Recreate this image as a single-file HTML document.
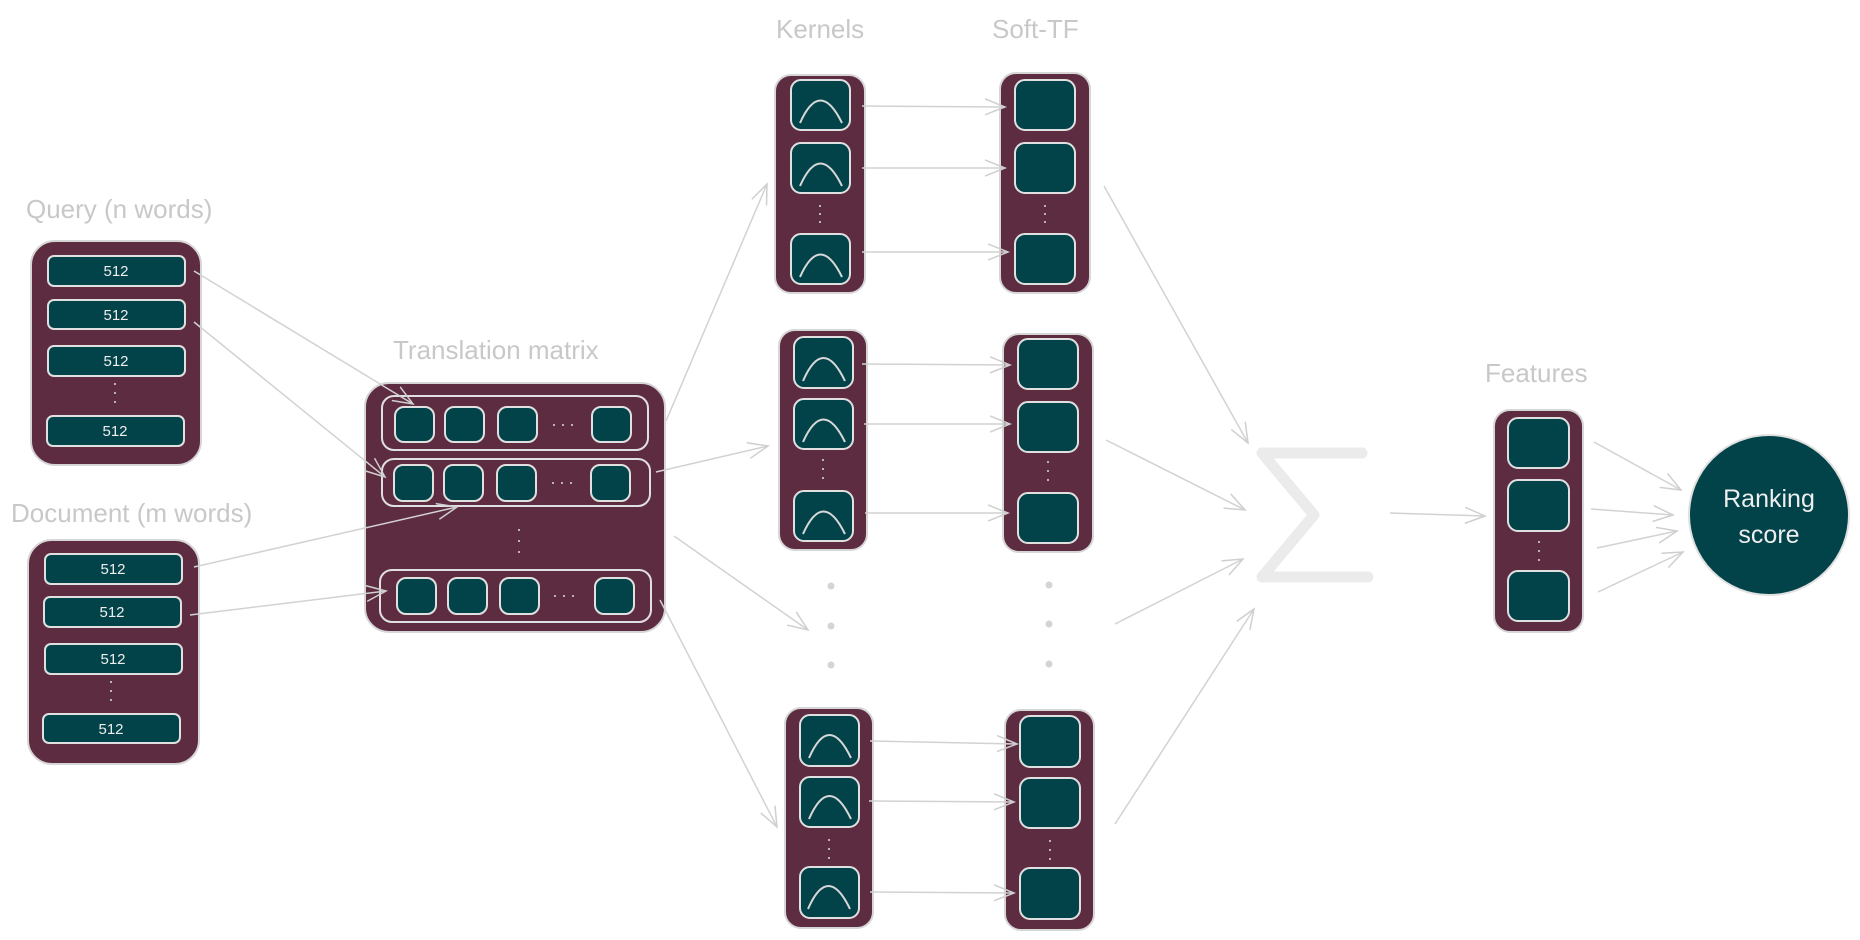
<!DOCTYPE html>
<html><head><meta charset="utf-8"><style>
html,body{margin:0;padding:0;background:#fff;}
svg{display:block;}
text{font-family:"Liberation Sans",sans-serif;}
</style></head><body>
<svg width="1860" height="940" viewBox="0 0 1860 940" xmlns="http://www.w3.org/2000/svg">
<defs>
<marker id="a" markerWidth="24" markerHeight="24" refX="20" refY="12" orient="auto" markerUnits="userSpaceOnUse">
<polyline points="0,4 20,12 0,20" fill="none" stroke="#cfcfcf" stroke-width="1.5"/>
</marker>
</defs>
<g fill="#c8c8c8" font-size="26">
<text x="26" y="218">Query (n words)</text>
<text x="11" y="522">Document (m words)</text>
<text x="393" y="359">Translation matrix</text>
<text x="776" y="38">Kernels</text>
<text x="992" y="38">Soft-TF</text>
<text x="1485" y="382">Features</text>
</g>
<g stroke="#d6d6d6" stroke-width="2">
<rect x="31" y="241" width="170" height="224" rx="24" fill="#5e2c41"/>
<g fill="#02434a" stroke="#e0e0e0">
<rect x="48" y="256" width="137" height="30" rx="6"/>
<rect x="48" y="300" width="137" height="29" rx="6"/>
<rect x="48" y="346" width="137" height="30" rx="6"/>
<rect x="47" y="416" width="137" height="30" rx="6"/>
</g>
<rect x="28" y="540" width="171" height="224" rx="24" fill="#5e2c41"/>
<g fill="#02434a" stroke="#e0e0e0">
<rect x="45" y="554" width="137" height="30" rx="6"/>
<rect x="44" y="597" width="137" height="30" rx="6"/>
<rect x="45" y="644" width="137" height="30" rx="6"/>
<rect x="43" y="714" width="137" height="29" rx="6"/>
</g>
<rect x="365" y="383" width="300" height="249" rx="24" fill="#5e2c41"/>
<g fill="none" stroke="#e0e0e0">
<rect x="382" y="396" width="266" height="54" rx="12"/>
<rect x="382" y="459" width="268" height="47" rx="12"/>
<rect x="380" y="570" width="271" height="52" rx="12"/>
</g>
<g fill="#02434a" stroke="#e0e0e0">
<rect x="395" y="407" width="39" height="35" rx="9"/><rect x="445" y="407" width="39" height="35" rx="9"/><rect x="498" y="407" width="39" height="35" rx="9"/><rect x="592" y="407" width="39" height="35" rx="9"/>
<rect x="394" y="465" width="39" height="36" rx="9"/><rect x="444" y="465" width="39" height="36" rx="9"/><rect x="497" y="465" width="39" height="36" rx="9"/><rect x="591" y="465" width="39" height="36" rx="9"/>
<rect x="397" y="578" width="39" height="36" rx="9"/><rect x="448" y="578" width="39" height="36" rx="9"/><rect x="500" y="578" width="39" height="36" rx="9"/><rect x="595" y="578" width="39" height="36" rx="9"/>
</g>
<rect x="775" y="75" width="90" height="218" rx="16" fill="#5e2c41"/>
<rect x="1000" y="73" width="90" height="220" rx="16" fill="#5e2c41"/>
<rect x="779" y="330" width="88" height="220" rx="16" fill="#5e2c41"/>
<rect x="1003" y="334" width="90" height="218" rx="16" fill="#5e2c41"/>
<rect x="785" y="708" width="88" height="220" rx="16" fill="#5e2c41"/>
<rect x="1005" y="710" width="89" height="220" rx="16" fill="#5e2c41"/>
<rect x="1494" y="410" width="89" height="222" rx="16" fill="#5e2c41"/>
<g fill="#02434a" stroke="#e0e0e0">
<rect x="791" y="80" width="59" height="50" rx="10"/><rect x="791" y="143" width="59" height="50" rx="10"/><rect x="791" y="234" width="59" height="50" rx="10"/>
<rect x="1015" y="80" width="60" height="50" rx="10"/><rect x="1015" y="143" width="60" height="50" rx="10"/><rect x="1015" y="234" width="60" height="50" rx="10"/>
<rect x="794" y="337" width="59" height="51" rx="10"/><rect x="794" y="399" width="59" height="50" rx="10"/><rect x="794" y="491" width="59" height="50" rx="10"/>
<rect x="1018" y="339" width="60" height="50" rx="10"/><rect x="1018" y="402" width="60" height="50" rx="10"/><rect x="1018" y="493" width="60" height="50" rx="10"/>
<rect x="800" y="715" width="59" height="51" rx="10"/><rect x="800" y="777" width="59" height="50" rx="10"/><rect x="800" y="867" width="59" height="51" rx="10"/>
<rect x="1020" y="716" width="60" height="51" rx="10"/><rect x="1020" y="778" width="60" height="50" rx="10"/><rect x="1020" y="868" width="60" height="51" rx="10"/>
<rect x="1508" y="418" width="61" height="50" rx="10"/><rect x="1508" y="480" width="61" height="51" rx="10"/><rect x="1508" y="571" width="61" height="50" rx="10"/>
</g>
<circle cx="1769" cy="515" r="80" fill="#02434a" stroke="#e0e0e0"/>
</g>
<g fill="none" stroke="#d8d8d8" stroke-width="2">
<path d="M800,123 Q820,78 842,123"/><path d="M800,186 Q820,141 842,186"/><path d="M800,277 Q820,232 842,277"/>
<path d="M803,381 Q823,335 845,381"/><path d="M803,442 Q823,397 845,442"/><path d="M803,534 Q823,489 845,534"/>
<path d="M809,758 Q829,712 851,758"/><path d="M809,819 Q829,773 851,819"/><path d="M808,909 Q828,863 850,909"/>
</g>
<g fill="#eee" font-size="15" text-anchor="middle">
<text x="116" y="276">512</text><text x="116" y="320">512</text><text x="116" y="366">512</text><text x="115" y="436">512</text>
<text x="113" y="574">512</text><text x="112" y="617">512</text><text x="113" y="664">512</text><text x="111" y="734">512</text>
</g>
<g fill="#eee" font-size="25" text-anchor="middle">
<text x="1769" y="507">Ranking</text><text x="1769" y="543">score</text>
</g>
<g fill="#ddd">
<circle cx="115" cy="384" r="1"/><circle cx="115" cy="393" r="1"/><circle cx="115" cy="402" r="1"/>
<circle cx="111" cy="682" r="1"/><circle cx="111" cy="691" r="1"/><circle cx="111" cy="700" r="1"/>
<circle cx="820" cy="206" r="1"/><circle cx="820" cy="214" r="1"/><circle cx="820" cy="222" r="1"/>
<circle cx="1045" cy="206" r="1"/><circle cx="1045" cy="214" r="1"/><circle cx="1045" cy="222" r="1"/>
<circle cx="823" cy="460" r="1"/><circle cx="823" cy="469" r="1"/><circle cx="823" cy="478" r="1"/>
<circle cx="1048" cy="462" r="1"/><circle cx="1048" cy="471" r="1"/><circle cx="1048" cy="480" r="1"/>
<circle cx="829" cy="840" r="1"/><circle cx="829" cy="849" r="1"/><circle cx="829" cy="858" r="1"/>
<circle cx="1050" cy="841" r="1"/><circle cx="1050" cy="850" r="1"/><circle cx="1050" cy="859" r="1"/>
<circle cx="1539" cy="542" r="1"/><circle cx="1539" cy="551" r="1"/><circle cx="1539" cy="560" r="1"/>
<circle cx="519" cy="530" r="1"/><circle cx="519" cy="541" r="1"/><circle cx="519" cy="552" r="1"/>
<circle cx="554" cy="425" r="1"/><circle cx="563" cy="425" r="1"/><circle cx="572" cy="425" r="1"/>
<circle cx="553" cy="483" r="1"/><circle cx="562" cy="483" r="1"/><circle cx="571" cy="483" r="1"/>
<circle cx="555" cy="596" r="1"/><circle cx="564" cy="596" r="1"/><circle cx="573" cy="596" r="1"/>
</g>
<g fill="#d4d4d4">
<circle cx="831" cy="586" r="3.5"/><circle cx="831" cy="626" r="3.5"/><circle cx="831" cy="665" r="3.5"/>
<circle cx="1049" cy="585" r="3.5"/><circle cx="1049" cy="624" r="3.5"/><circle cx="1049" cy="664" r="3.5"/>
</g>
<path d="M1362,453 L1262,453 L1314,515 L1262,577 L1368,577" fill="none" stroke="#ebebeb" stroke-width="11" stroke-linejoin="round" stroke-linecap="round"/>
<g stroke="#d2d2d2" stroke-width="1.5" fill="none" marker-end="url(#a)">
<line x1="194" y1="271" x2="413" y2="404"/>
<line x1="194" y1="322" x2="385" y2="477"/>
<line x1="194" y1="567" x2="457" y2="507"/>
<line x1="190" y1="615" x2="386" y2="591"/>
<line x1="666" y1="421" x2="767" y2="184"/>
<line x1="656" y1="472" x2="768" y2="446"/>
<line x1="674" y1="536" x2="808" y2="630"/>
<line x1="660" y1="600" x2="777" y2="827"/>
<line x1="862" y1="106" x2="1005" y2="107"/>
<line x1="862" y1="168" x2="1005" y2="168"/>
<line x1="862" y1="252" x2="1008" y2="252"/>
<line x1="862" y1="364" x2="1010" y2="365"/>
<line x1="864" y1="424" x2="1010" y2="424"/>
<line x1="865" y1="513" x2="1008" y2="513"/>
<line x1="870" y1="741" x2="1017" y2="744"/>
<line x1="869" y1="801" x2="1014" y2="802"/>
<line x1="870" y1="892" x2="1014" y2="893"/>
<line x1="1104" y1="186" x2="1248" y2="443"/>
<line x1="1106" y1="440" x2="1245" y2="510"/>
<line x1="1115" y1="624" x2="1243" y2="559"/>
<line x1="1115" y1="824" x2="1254" y2="609"/>
<line x1="1390" y1="513" x2="1485" y2="516"/>
<line x1="1594" y1="442" x2="1681" y2="490"/>
<line x1="1591" y1="509" x2="1673" y2="515"/>
<line x1="1597" y1="548" x2="1677" y2="531"/>
<line x1="1598" y1="592" x2="1683" y2="552"/>
</g>
</svg>
</body></html>
